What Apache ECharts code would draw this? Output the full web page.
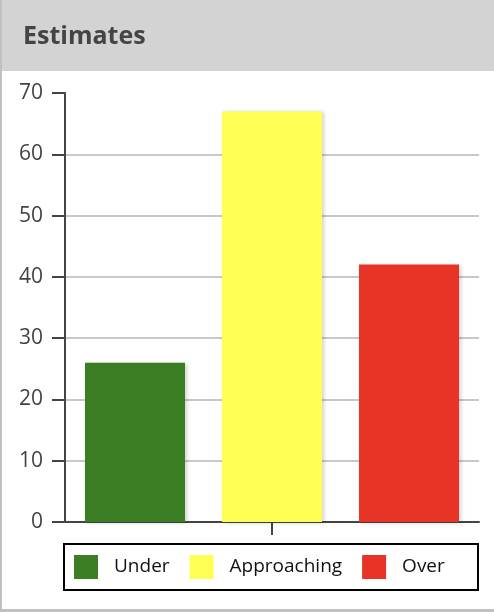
<!DOCTYPE html>
<html><head><meta charset="utf-8">
<script src="https://cdn.jsdelivr.net/npm/echarts@6/dist/echarts.min.js"></script>
<style>html,body{margin:0;padding:0;background:#fff}#c{width:494px;height:612px}</style>
</head><body><div id="c"></div>
<script>
const title = 'Estimates';
const categories = [''];
const seriesNames = ['Under', 'Approaching', 'Over'];
const seriesValues = [26, 67, 42];
const seriesColors = ['#3a7d23', '#fefe55', '#e83426'];
const yTicks = { min: 0, max: 70, interval: 10 };

const chart = echarts.init(document.getElementById('c'), null, { renderer: 'canvas' });
const FONT = '"Open Sans", "Noto Sans", sans-serif';
chart.setOption({
  animation: false,
  textStyle: { fontFamily: FONT },
  graphic: [
    { type: 'rect', shape: { x: 0, y: 0, width: 494, height: 71 }, style: { fill: '#d3d3d3' }, z: -1 },
    { type: 'rect', shape: { x: 0, y: 0, width: 2, height: 612 }, style: { fill: '#c0c0c0' }, z: 0 },
    { type: 'rect', shape: { x: 0, y: 609, width: 494, height: 3 }, style: { fill: '#c0c0c0' }, z: 0 },
    { type: 'text', x: 23, y: 37, style: { text: title, font: 'bold 25px ' + FONT, fill: '#444', textVerticalAlign: 'middle' } },
    { type: 'rect', shape: { x: 64, y: 544, width: 414, height: 46 }, style: { fill: 'none', stroke: '#000', lineWidth: 2 } }
  ],
  legend: {
    left: 74, top: 555, padding: 0,
    itemWidth: 24, itemHeight: 24, itemGap: 20,
    icon: 'rect',
    textStyle: { fontSize: 19, color: '#111', fontFamily: FONT, padding: [0, 0, 0, 11] },
    data: seriesNames
  },
  grid: { left: 65, right: 15, top: 93, bottom: 90 },
  xAxis: {
    type: 'category', data: categories,
    axisLine: { lineStyle: { color: '#444', width: 2 } },
    axisTick: { show: true, alignWithLabel: true, length: 13, lineStyle: { color: '#444', width: 2 } },
    axisLabel: { show: false }
  },
  yAxis: {
    type: 'value', min: yTicks.min, max: yTicks.max, interval: yTicks.interval,
    axisLine: { show: true, lineStyle: { color: '#444', width: 2 } },
    axisTick: { show: true, length: 13, lineStyle: { color: '#444', width: 2 } },
    axisLabel: { fontSize: 21, color: '#444', margin: 22, fontFamily: FONT },
    splitLine: { showMaxLine: false, showMinLine: false, lineStyle: { color: '#c8c8c8', width: 2 } }
  },
  series: seriesNames.map((n, i) => ({
    name: n, type: 'bar', barWidth: 100, barGap: '37%',
    data: [seriesValues[i]],
    itemStyle: { color: seriesColors[i], shadowColor: 'rgba(0,0,0,0.18)', shadowBlur: 4, shadowOffsetX: 2, shadowOffsetY: 1 }
  }))
});
</script></body></html>
